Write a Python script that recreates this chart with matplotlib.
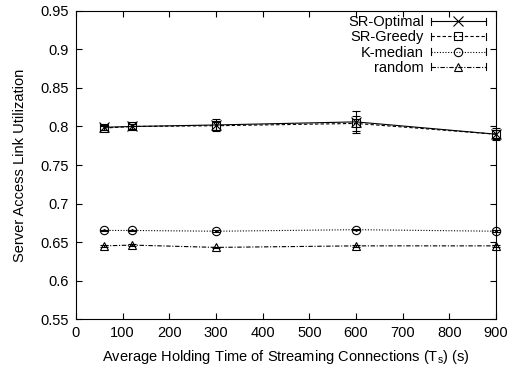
import matplotlib
matplotlib.use('Agg')
import matplotlib.pyplot as plt
from matplotlib.lines import Line2D
from matplotlib.legend_handler import HandlerBase

plt.rcParams['font.family'] = ['Liberation Sans', 'DejaVu Sans']
plt.rcParams['font.size'] = 10.5

# data
hold_times = [60, 120, 300, 600, 900]
sr_optimal = [0.799, 0.800, 0.802, 0.806, 0.790]
sr_optimal_err = [0.003, 0.003, 0.008, 0.014, 0.008]
sr_greedy = [0.798, 0.800, 0.801, 0.804, 0.790]
sr_greedy_err = [0.003, 0.003, 0.006, 0.010, 0.006]
k_median = [0.665, 0.665, 0.664, 0.666, 0.664]
k_median_err = [0.001, 0.001, 0.001, 0.001, 0.001]
random_sel = [0.645, 0.646, 0.643, 0.645, 0.645]
random_err = [0.001, 0.001, 0.001, 0.001, 0.001]

series = [
    ('SR-Optimal', sr_optimal, sr_optimal_err, '-', 'x', 6.5),
    ('SR-Greedy', sr_greedy, sr_greedy_err, (0, (3, 2)), 's', 6),
    ('K-median', k_median, k_median_err, (0, (1, 1.5)), 'o', 6),
    ('random', random_sel, random_err, (0, (4, 1.5, 1, 1.5)), '^', 6),
]


class ErrHandler(HandlerBase):
    # gnuplot style key: line with end caps and a marker in the middle
    def __init__(self, ls, marker, ms):
        super().__init__()
        self.ls, self.marker, self.ms = ls, marker, ms

    def create_artists(self, legend, orig, xd, yd, w, h, fs, trans):
        y = yd + h / 2
        art = [Line2D([xd, xd + w], [y, y], color='k', lw=0.8, ls=self.ls),
               Line2D([xd, xd], [y - 2.5, y + 2.5], color='k', lw=0.8),
               Line2D([xd + w, xd + w], [y - 2.5, y + 2.5], color='k', lw=0.8),
               Line2D([xd + w / 2], [y], marker=self.marker, ms=self.ms,
                      mfc='none', mec='k', mew=0.8, ls='none')]
        for a in art:
            a.set_transform(trans)
        return art


fig = plt.figure(figsize=(5.18, 3.70), dpi=100)
ax = fig.add_axes([0.1467, 0.1378, 0.8108, 0.8325])

handles = []
handler_map = {}
for name, vals, err, ls, mk, ms in series:
    lines = ax.errorbar(hold_times, vals, yerr=err, color='k', lw=0.8, ls=ls,
                        marker=mk, ms=ms, mfc='none', mec='k', mew=0.8,
                        elinewidth=0.8, capsize=3, capthick=0.8)
    for a in lines.get_children():
        a.set_clip_on(False)
    if mk == 'o':
        ax.plot(hold_times, vals, ls='none', marker='.', ms=2, color='k',
                clip_on=False)
    h = Line2D([], [], label=name)
    handles.append(h)
    handler_map[h] = ErrHandler(ls, mk, ms)

ax.set_xlim(0, 900)
ax.set_ylim(0.55, 0.95)
ax.set_xticks(range(0, 901, 100))
ax.set_yticks([0.55, 0.6, 0.65, 0.7, 0.75, 0.8, 0.85, 0.9, 0.95])
ax.set_yticklabels(['0.55', '0.6', '0.65', '0.7', '0.75', '0.8', '0.85', '0.9', '0.95'])
ax.tick_params(direction='in', top=True, right=True, length=4, width=0.8,
               pad=5)
for s in ax.spines.values():
    s.set_linewidth(0.8)

ax.set_xlabel('Average Holding Time of Streaming Connections (T$_\\mathregular{s}$) (s)',
              labelpad=6)
ax.set_ylabel('Server Access Link Utilization', labelpad=10)

ax.legend(handles=handles, handler_map=handler_map, loc='upper right',
          markerfirst=False, frameon=False, handlelength=3.8,
          handletextpad=0.45, labelspacing=0.08, borderaxespad=0.0,
          bbox_to_anchor=(0.99, 1.005))

fig.savefig('out.png', dpi=100)
